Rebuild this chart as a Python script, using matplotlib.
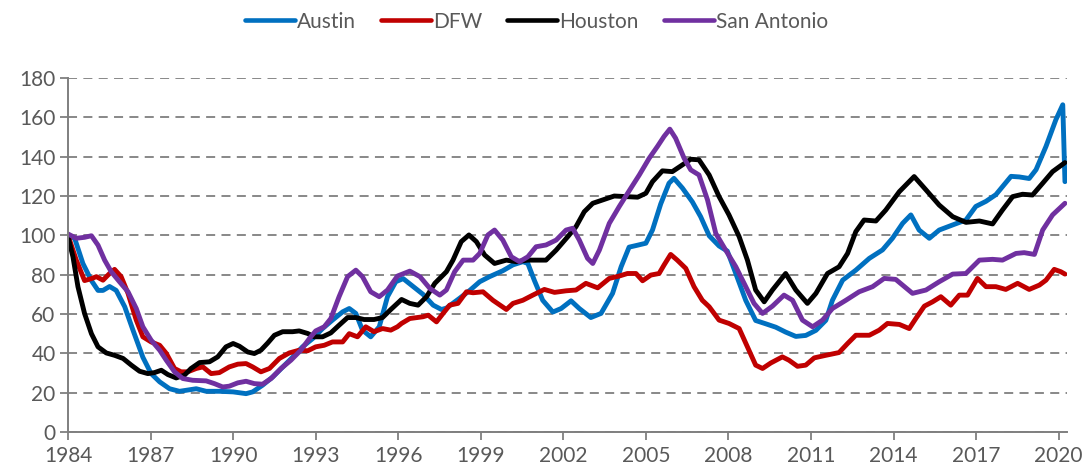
import matplotlib
matplotlib.use("Agg")
import matplotlib.pyplot as plt

# values (year, index value)
austin_x = [1984.0, 1984.24, 1984.54, 1984.85, 1985.09, 1985.27, 1985.51, 1985.75, 1986.06, 1986.36,
            1986.72, 1987.02, 1987.33, 1987.69, 1988.05, 1988.29, 1988.66, 1989.02, 1989.5, 1990.0,
            1990.47, 1990.71, 1991.07, 1991.44, 1991.8, 1992.16, 1992.52, 1992.89, 1993.25, 1993.61,
            1993.98, 1994.22, 1994.46, 1994.7, 1995.0, 1995.31, 1995.61, 1995.91, 1996.18, 1996.54,
            1996.9, 1997.27, 1997.57, 1997.75, 1998.23, 1998.6, 1998.96, 1999.32, 1999.8, 2000.17,
            2000.53, 2000.71, 2000.95, 2001.25, 2001.62, 2001.92, 2002.28, 2002.58, 2003.0, 2003.37,
            2003.79, 2004.1, 2004.39, 2004.7, 2005.0, 2005.24, 2005.54, 2005.84, 2006.02, 2006.33,
            2006.69, 2006.99, 2007.3, 2007.66, 2007.96, 2008.27, 2008.63, 2008.99, 2009.36, 2009.72,
            2010.08, 2010.45, 2010.81, 2011.18, 2011.54, 2011.78, 2012.15, 2012.63, 2013.12, 2013.6,
            2013.96, 2014.33, 2014.63, 2014.93, 2015.3, 2015.66, 2016.15, 2016.63, 2016.99, 2017.36,
            2017.72, 2018.27, 2018.57, 2018.93, 2019.18, 2019.54, 2019.9, 2020.15, 2020.23]
austin_y = [100, 98.5, 85.7, 77, 72, 72, 74, 72, 63.7, 51.8,
            38, 29.7, 25.5, 22, 20.7, 21.2, 22, 20.7, 20.7, 20.4,
            19.5, 20.4, 23.8, 28, 33, 38, 43.3, 47.5, 52.6, 56.9,
            61.1, 62.8, 60.3, 51.8, 48.4, 53.5, 68.8, 76.4, 78, 74,
            70, 64.5, 62.3, 63, 68, 72, 76.4, 79, 82, 85,
            86.6, 85.7, 77, 67, 61, 62.8, 66.7, 62.8, 58.2, 60.3,
            70.5, 84, 94, 95, 96, 102.7, 116, 126.5, 129, 124,
            117, 109.5, 99.8, 94.6, 92, 80.5, 66.9, 56.7, 55, 53.3,
            50.8, 48.6, 49.1, 51.7, 56.8, 67, 77.2, 82.3, 88.3, 92.6,
            98.5, 106.1, 110.4, 102.7, 98.5, 102.7, 105.3, 107.8, 114.7, 117.3,
            120.7, 130, 129.7, 128.9, 133.4, 145.2, 158.8, 166.4, 127.3]

dfw_x = [1984.0, 1984.3, 1984.6, 1984.85, 1985.03, 1985.27, 1985.51, 1985.69, 1985.93, 1986.18,
         1986.48, 1986.72, 1987.02, 1987.33, 1987.57, 1987.87, 1988.11, 1988.35, 1988.66, 1988.9,
         1989.2, 1989.5, 1989.86, 1990.17, 1990.47, 1990.71, 1991.01, 1991.32, 1991.68, 1992.04,
         1992.4, 1992.71, 1993.0, 1993.31, 1993.61, 1993.98, 1994.22, 1994.52, 1994.82, 1995.12,
         1995.43, 1995.73, 1995.97, 1996.12, 1996.42, 1996.9, 1997.09, 1997.39, 1997.63, 1997.87,
         1998.17, 1998.48, 1998.72, 1999.08, 1999.44, 1999.93, 2000.17, 2000.53, 2000.89, 2001.31,
         2001.68, 2002.1, 2002.46, 2002.82, 2003.25, 2003.67, 2004.03, 2004.33, 2004.64, 2004.88,
         2005.18, 2005.48, 2005.66, 2005.9, 2006.14, 2006.45, 2006.75, 2007.05, 2007.3, 2007.66,
         2008.02, 2008.39, 2008.69, 2008.99, 2009.24, 2009.54, 2009.96, 2010.2, 2010.51, 2010.81,
         2011.12, 2011.54, 2012.02, 2012.33, 2012.63, 2013.12, 2013.48, 2013.78, 2014.21, 2014.57,
         2014.81, 2015.12, 2015.42, 2015.72, 2016.08, 2016.39, 2016.69, 2017.05, 2017.36, 2017.72,
         2018.08, 2018.51, 2018.93, 2019.3, 2019.54, 2019.84, 2020.08, 2020.23]
dfw_y = [100, 87.4, 77, 78, 79, 77.2, 80.6, 82.7, 79, 70.5,
         56.9, 48.4, 45.8, 44.1, 40, 32.3, 30.6, 30.6, 32.3, 33.1,
         29.7, 30.2, 33.1, 34.5, 34.8, 33.1, 30.6, 32.3, 37.4, 40.2,
         41.6, 41.3, 43.3, 44.1, 45.8, 45.8, 50, 48.4, 53.5, 51,
         52.6, 51.8, 53.5, 55.2, 57.7, 58.6, 59.4, 56, 60.3, 64.5,
         65.4, 71.3, 70.8, 71.3, 67, 62.3, 65.4, 67, 69.6, 72.5,
         71, 71.8, 72.2, 75.6, 73.3, 78.1, 79.3, 80.6, 80.6, 76.9,
         79.8, 80.6, 84.9, 90.3, 87.4, 83.2, 73.9, 67, 63.7, 56.9,
         55.2, 52.6, 43.3, 34, 32.3, 35.1, 38.2, 36.5, 33.4, 34,
         37.7, 39, 40.4, 45, 49.2, 49.2, 51.8, 55.2, 54.7, 52.6,
         57.7, 64, 66.2, 68.8, 64.5, 69.6, 69.6, 78.1, 73.9, 73.9,
         72.5, 75.6, 72.5, 74.7, 77.2, 82.7, 81.5, 80.3]

houston_x = [1984.0, 1984.18, 1984.36, 1984.6, 1984.85, 1985.09, 1985.39, 1985.69, 1986.0, 1986.3,
             1986.6, 1986.9, 1987.14, 1987.39, 1987.63, 1987.93, 1988.23, 1988.47, 1988.78, 1989.14,
             1989.44, 1989.74, 1990.0, 1990.23, 1990.53, 1990.77, 1991.01, 1991.26, 1991.5, 1991.8,
             1992.16, 1992.4, 1992.71, 1992.95, 1993.25, 1993.55, 1993.85, 1994.16, 1994.46, 1994.76,
             1995.12, 1995.43, 1995.73, 1996.03, 1996.12, 1996.42, 1996.72, 1997.03, 1997.33, 1997.75,
             1997.99, 1998.29, 1998.57, 1998.84, 1999.14, 1999.5, 1999.93, 2000.29, 2000.71, 2001.37,
             2001.74, 2002.16, 2002.46, 2002.76, 2003.07, 2003.43, 2003.85, 2004.27, 2004.7, 2005.0,
             2005.24, 2005.6, 2005.96, 2006.27, 2006.63, 2006.93, 2007.3, 2007.66, 2008.02, 2008.39,
             2008.69, 2008.99, 2009.3, 2009.6, 2010.08, 2010.45, 2010.87, 2011.18, 2011.6, 2012.02,
             2012.33, 2012.63, 2012.93, 2013.36, 2013.72, 2014.21, 2014.75, 2015.18, 2015.66, 2016.15,
             2016.63, 2017.12, 2017.6, 2017.96, 2018.33, 2018.69, 2019.05, 2019.42, 2019.78, 2020.23]
houston_y = [99.3, 89, 73.9, 60.3, 50, 43.3, 40.2, 39, 37.4, 34,
             30.9, 29.7, 30.2, 31.4, 29.2, 27.5, 28.9, 32.3, 35.3, 35.7,
             38.2, 43.3, 45, 43.6, 40.7, 39.9, 41.6, 45.3, 49.2, 51,
             51, 51.4, 50.1, 48.4, 48.4, 50.4, 54.3, 58.2, 58.2, 57.2,
             57.2, 58.2, 62.3, 66.2, 67.4, 65.4, 64.5, 68.8, 75.6, 81.5,
             87.4, 96.8, 100.2, 96.8, 90, 85.7, 87.4, 86.6, 87.4, 87.4,
             92.5, 99.3, 104.4, 112, 116.3, 118, 120, 119.7, 119.4, 121.4,
             127.3, 132.8, 132.4, 135.3, 138.7, 138.4, 130.7, 119.7, 110.4, 99.3,
             87.4, 72.2, 66.2, 72.2, 80.6, 72.2, 65.4, 70.5, 80.6, 84,
             90.8, 101.9, 107.8, 107.3, 112.9, 122.2, 129.9, 123.1, 115.4, 109.5,
             106.6, 107.3, 105.8, 112.9, 119.7, 120.9, 120.5, 126.5, 132.4, 137]

sa_x = [1984.0, 1984.3, 1984.6, 1984.85, 1985.09, 1985.33, 1985.57, 1985.87, 1986.18, 1986.48,
        1986.72, 1987.02, 1987.33, 1987.57, 1987.87, 1988.17, 1988.53, 1989.02, 1989.32, 1989.62,
        1989.86, 1990.17, 1990.47, 1990.77, 1991.07, 1991.38, 1991.74, 1992.1, 1992.46, 1992.77,
        1993.0, 1993.31, 1993.55, 1993.85, 1994.16, 1994.46, 1994.7, 1995.0, 1995.31, 1995.61,
        1995.97, 1996.42, 1996.79, 1997.15, 1997.51, 1997.75, 1998.05, 1998.36, 1998.72, 1998.96,
        1999.26, 1999.5, 1999.8, 2000.11, 2000.41, 2000.71, 2001.01, 2001.37, 2001.74, 2002.1,
        2002.34, 2002.58, 2002.88, 2003.07, 2003.31, 2003.67, 2004.03, 2004.45, 2004.76, 2005.12,
        2005.42, 2005.66, 2005.87, 2006.08, 2006.39, 2006.63, 2006.93, 2007.24, 2007.54, 2007.9,
        2008.27, 2008.63, 2008.93, 2009.24, 2009.6, 2010.02, 2010.33, 2010.69, 2011.06, 2011.42,
        2011.78, 2012.27, 2012.75, 2013.24, 2013.66, 2014.08, 2014.69, 2015.18, 2015.66, 2016.15,
        2016.63, 2017.12, 2017.6, 2017.96, 2018.45, 2018.75, 2019.12, 2019.42, 2019.78, 2020.23]
sa_y = [100.7, 98.5, 99, 99.8, 95, 87.4, 81.5, 76.4, 71.3, 62.8,
        53.5, 46.7, 41.6, 36.5, 30.6, 27.2, 26.3, 26, 24.6, 22.9,
        23.3, 25, 25.8, 24.6, 24.3, 27.2, 32.3, 36.5, 41.6, 47.5,
        51.4, 53.5, 57.7, 68.8, 79, 82.3, 79, 71.3, 68.8, 72.2,
        79.3, 81.8, 79, 73, 69.6, 72.2, 81.5, 87.4, 87.4, 90.8,
        100.2, 102.7, 97.6, 89.1, 86.6, 89.1, 94.2, 95.1, 97.6, 102.7,
        103.6, 97.6, 88.3, 85.7, 92.5, 106.1, 114.6, 123.9, 130.7, 139.2,
        145.2, 150.3, 154, 149.4, 139.2, 133.3, 130.7, 118, 101, 92.5,
        84, 73.9, 65.4, 60.3, 64, 69.6, 67, 56.9, 53.5, 56.9,
        62.8, 67, 71.3, 73.9, 78.1, 77.6, 70.5, 72.2, 76.4, 80.3,
        80.6, 87.4, 87.8, 87.4, 90.8, 91.2, 90.3, 102.7, 110.4, 116.3]

series = [("Austin", austin_x, austin_y, "#0070C0"),
          ("DFW", dfw_x, dfw_y, "#C00000"),
          ("Houston", houston_x, houston_y, "#000000"),
          ("San Antonio", sa_x, sa_y, "#7030A0")]

xticks = [1984, 1987, 1990, 1993, 1996, 1999, 2002, 2005, 2008, 2011, 2014, 2017, 2020]
yticks = list(range(0, 181, 20))

plt.rcParams["font.family"] = ["Lato", "DejaVu Sans"]
grey = "#7F7F7F"
txt = "#595959"

fig = plt.figure(figsize=(10.92, 4.74), dpi=100)
ax = fig.add_axes([0.0623, 0.0886, 0.9147, 0.7468])

for name, xs, ys, c in series:
    ax.plot(xs, ys, color=c, lw=3.5, label=name, solid_joinstyle="round",
            solid_capstyle="round")

ax.set_xlim(1984, 2020.3)
ax.set_ylim(0, 180)
ax.set_xticks(xticks)
ax.set_yticks(yticks)
ax.yaxis.grid(True, color=grey, lw=1.3, linestyle=(0, (5, 3.5)))
ax.set_axisbelow(True)

for s in ["top", "right"]:
    ax.spines[s].set_visible(False)
for s in ["left", "bottom"]:
    ax.spines[s].set_color(grey)
    ax.spines[s].set_linewidth(1.4)

ax.tick_params(axis="both", colors=grey, labelcolor=txt, labelsize=15,
               length=6, width=1.3)
ax.tick_params(axis="x", pad=4)
ax.tick_params(axis="y", pad=3)

leg = fig.legend(loc="upper center", bbox_to_anchor=(0.491, 1.015), ncol=4,
                 frameon=False, fontsize=15, handlelength=2.4, handletextpad=0.1,
                 columnspacing=1.2, labelcolor=txt)
for h in leg.get_lines():
    h.set_linewidth(3.3)

fig.savefig("out.png", dpi=100)
